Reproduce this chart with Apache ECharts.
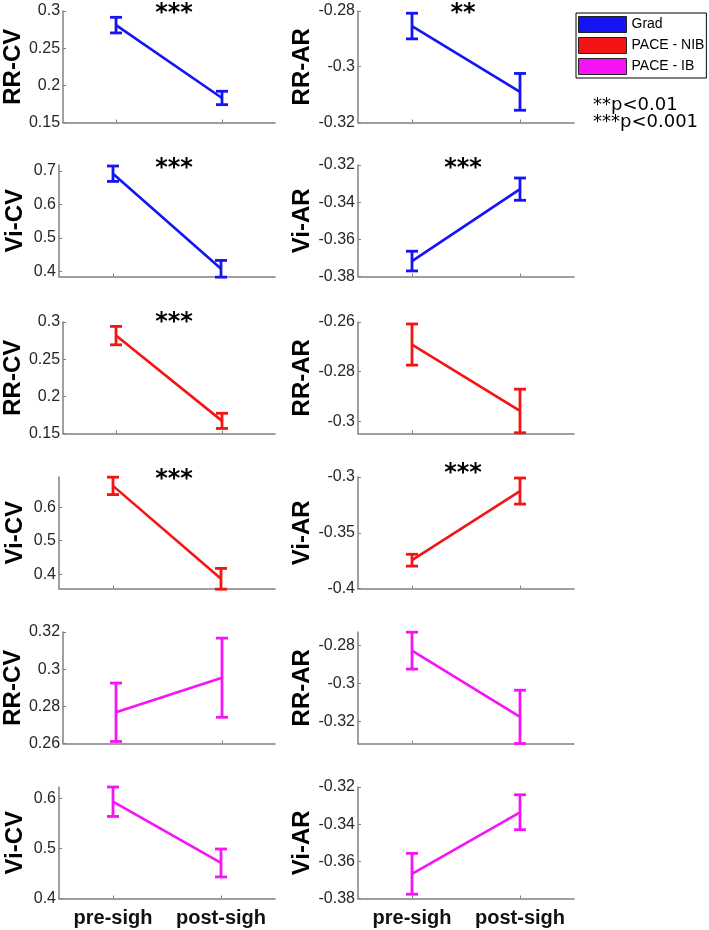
<!DOCTYPE html>
<html>
<head>
<meta charset="utf-8">
<script src="https://cdn.jsdelivr.net/npm/echarts@6/dist/echarts.min.js"></script>
<style>
  html, body { margin: 0; padding: 0; background: #fff; }
  #chart { width: 709px; height: 930px; }
</style>
</head>
<body>
<div id="chart"></div>
<script>
// categories and group names
const categories = ['pre-sigh', 'post-sigh'];
const groups = ['Grad', 'PACE - NIB', 'PACE - IB'];

// means and error bars, one pair per panel
const gradRRCV = [0.281, 0.183];
const gradRRCVErr = [0.0105, 0.009];
const gradRRAR = [-0.2854, -0.309];
const gradRRARErr = [0.0046, 0.0066];
const gradViCV = [0.692, 0.408];
const gradViCVErr = [0.023, 0.025];
const gradViAR = [-0.3717, -0.333];
const gradViARErr = [0.0053, 0.006];

const nibRRCV = [0.2817, 0.167];
const nibRRCVErr = [0.0124, 0.0102];
const nibRRAR = [-0.2691, -0.2959];
const nibRRARErr = [0.0083, 0.0088];
const nibViCV = [0.6635, 0.386];
const nibViCVErr = [0.026, 0.031];
const nibViAR = [-0.3746, -0.3126];
const nibViARErr = [0.0053, 0.0117];

const ibRRCV = [0.2768, 0.2954];
const ibRRCVErr = [0.0157, 0.0213];
const ibRRAR = [-0.2828, -0.3176];
const ibRRARErr = [0.0097, 0.014];
const ibViCV = [0.594, 0.4712];
const ibViCVErr = [0.0295, 0.028];
const ibViAR = [-0.3667, -0.3336];
const ibViARErr = [0.011, 0.0094];

// y tick labels per panel
const ticksRRCV1 = [0.15, 0.2, 0.25, 0.3];
const ticksRRAR1 = [-0.32, -0.3, -0.28];
const ticksViCV1 = [0.4, 0.5, 0.6, 0.7];
const ticksViAR1 = [-0.38, -0.36, -0.34, -0.32];
const ticksRRCV2 = [0.15, 0.2, 0.25, 0.3];
const ticksRRAR2 = [-0.3, -0.28, -0.26];
const ticksViCV2 = [0.4, 0.5, 0.6];
const ticksViAR2 = [-0.4, -0.35, -0.3];
const ticksRRCV3 = [0.26, 0.28, 0.3, 0.32];
const ticksRRAR3 = [-0.32, -0.3, -0.28];
const ticksViCV3 = [0.4, 0.5, 0.6];
const ticksViAR3 = [-0.38, -0.36, -0.34, -0.32];

// significance marks
const marks = ['***', '**', '***', '***', '***', '', '***', '***', '', '', '', ''];

const colors = ['#1414f5', '#f51414', '#f514f5'];

// panel list: [name, group index, means, errs, ticks, min, max]
const panels = [
  ['RR-CV', 0, gradRRCV, gradRRCVErr, ticksRRCV1, 0.15, 0.3],
  ['RR-AR', 0, gradRRAR, gradRRARErr, ticksRRAR1, -0.32, -0.28],
  ['Vi-CV', 0, gradViCV, gradViCVErr, ticksViCV1, 0.385, 0.718],
  ['Vi-AR', 0, gradViAR, gradViARErr, ticksViAR1, -0.38, -0.32],
  ['RR-CV', 1, nibRRCV, nibRRCVErr, ticksRRCV2, 0.15, 0.3],
  ['RR-AR', 1, nibRRAR, nibRRARErr, ticksRRAR2, -0.305, -0.26],
  ['Vi-CV', 1, nibViCV, nibViCVErr, ticksViCV2, 0.357, 0.69],
  ['Vi-AR', 1, nibViAR, nibViARErr, ticksViAR2, -0.4, -0.3],
  ['RR-CV', 2, ibRRCV, ibRRCVErr, ticksRRCV3, 0.26, 0.32],
  ['RR-AR', 2, ibRRAR, ibRRARErr, ticksRRAR3, -0.3316, -0.273],
  ['Vi-CV', 2, ibViCV, ibViCVErr, ticksViCV3, 0.4, 0.6235],
  ['Vi-AR', 2, ibViAR, ibViARErr, ticksViAR3, -0.38, -0.32],
];

const colLeft = [59, 358];
const rowTop = [11, 165, 322, 477, 632, 787];
const gridW = 216;
const gridH = 111.5;
const markX = [174, 463];
const markY = [14, 169, 323, 480, 0, 0];

const chart = echarts.init(document.getElementById('chart'));

function renderErr(params, api) {
  const x = api.value(0);
  const m = api.value(1);
  const e = api.value(2);
  const top = api.coord([x, m + e]);
  const bot = api.coord([x, m - e]);
  const hw = 6;
  const style = { stroke: api.visual('color'), lineWidth: 2.8 };
  return {
    type: 'group',
    children: [
      { type: 'line', shape: { x1: top[0], y1: top[1], x2: bot[0], y2: bot[1] }, style: style },
      { type: 'line', shape: { x1: top[0] - hw, y1: top[1], x2: top[0] + hw, y2: top[1] }, style: style },
      { type: 'line', shape: { x1: bot[0] - hw, y1: bot[1], x2: bot[0] + hw, y2: bot[1] }, style: style },
    ],
  };
}

const grids = [];
const xAxes = [];
const yAxes = [];
const series = [];
const graphics = [];

panels.forEach((p, i) => {
  const row = Math.floor(i / 2);
  const col = i % 2;
  const [name, g, means, errs, ticks, min, max] = p;
  grids.push({ left: colLeft[col], top: rowTop[row], width: gridW, height: gridH });
  xAxes.push({
    type: 'category',
    gridIndex: i,
    data: categories,
    boundaryGap: true,
    axisLine: { lineStyle: { color: '#808080', width: 1.5 } },
    axisTick: { show: true, inside: true, length: 3, alignWithLabel: true, interval: 0, lineStyle: { color: '#808080' } },
    axisLabel: {
      show: row === 5,
      interval: 0,
      hideOverlap: false,
      margin: 10,
      fontSize: 20,
      fontWeight: 'bold',
      fontFamily: 'Liberation Sans',
      color: '#111',
    },
  });
  yAxes.push({
    type: 'value',
    gridIndex: i,
    min: min,
    max: max,
    name: name,
    nameLocation: 'middle',
    nameRotate: 90,
    nameGap: col === 0 ? 32 : 41,
    nameTextStyle: { fontSize: 24, fontWeight: 'bold', fontFamily: 'Liberation Sans', color: '#000' },
    splitLine: { show: false },
    axisLine: { show: true, lineStyle: { color: '#808080', width: 1.5 } },
    axisTick: { show: true, inside: true, length: 3, customValues: ticks, lineStyle: { color: '#808080' } },
    axisLabel: {
      customValues: ticks,
      margin: 3,
      fontSize: 16,
      fontFamily: 'Liberation Sans',
      color: '#262626',
    },
  });
  series.push({
    name: groups[g],
    type: 'line',
    xAxisIndex: i,
    yAxisIndex: i,
    data: means,
    color: colors[g],
    symbol: 'none',
    lineStyle: { width: 2.6, color: colors[g] },
    silent: true,
  });
  series.push({
    name: groups[g],
    type: 'custom',
    xAxisIndex: i,
    yAxisIndex: i,
    renderItem: renderErr,
    itemStyle: { color: colors[g] },
    encode: { x: 0, y: 1 },
    data: means.map((m, k) => [k, m, errs[k]]),
    clip: false,
    silent: true,
  });
  if (marks[i]) {
    graphics.push({
      type: 'text',
      x: markX[col],
      y: markY[row] + (col === 1 && row === 3 ? -6 : 0),
      style: {
        text: marks[i],
        fill: '#000',
        font: 'bold 24px "DejaVu Sans"',
        align: 'center',
        verticalAlign: 'middle',
      },
    });
  }
});

graphics.push({
  type: 'text',
  x: 593,
  y: 105,
  style: { text: '**p<0.01', fill: '#000', font: '18px "DejaVu Sans"', align: 'left', verticalAlign: 'middle' },
});
graphics.push({
  type: 'text',
  x: 593,
  y: 122,
  style: { text: '***p<0.001', fill: '#000', font: '18px "DejaVu Sans"', align: 'left', verticalAlign: 'middle' },
});

chart.setOption({
  animation: false,
  backgroundColor: '#fff',
  legend: {
    data: groups,
    orient: 'vertical',
    left: 576,
    top: 13,
    icon: 'rect',
    itemWidth: 48,
    itemHeight: 16,
    itemGap: 4,
    padding: [3, 2, 3, 2],
    borderColor: '#000',
    borderWidth: 1,
    backgroundColor: '#fff',
    selectedMode: false,
    itemStyle: { borderColor: '#222', borderWidth: 1 },
    textStyle: { fontSize: 14, fontFamily: 'Liberation Sans', color: '#000' },
  },
  grid: grids,
  xAxis: xAxes,
  yAxis: yAxes,
  series: series,
  graphic: graphics,
});
</script>
</body>
</html>
